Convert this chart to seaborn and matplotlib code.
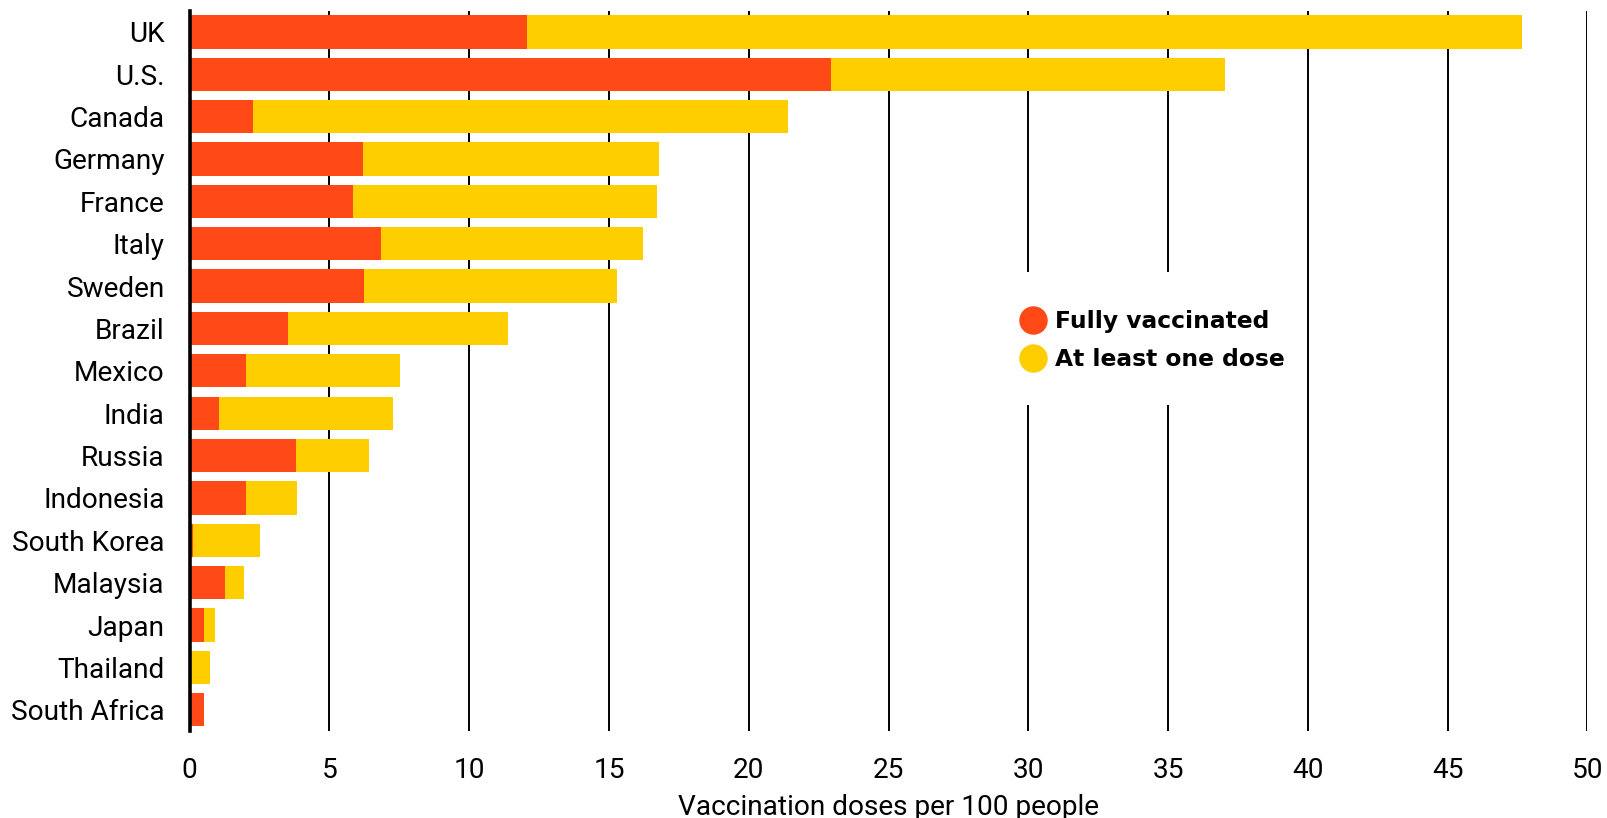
import matplotlib
matplotlib.use("Agg")
import matplotlib.pyplot as plt
from matplotlib.lines import Line2D
from matplotlib.patches import Rectangle
import seaborn as sns
import pandas as pd

# Vaccination doses per 100 people, by country
countries = ["UK", "U.S.", "Canada", "Germany", "France", "Italy", "Sweden",
             "Brazil", "Mexico", "India", "Russia", "Indonesia", "South Korea",
             "Malaysia", "Japan", "Thailand", "South Africa"]
fully_vaccinated = [12.05, 22.95, 2.25, 6.2, 5.85, 6.85, 6.25,
                    3.52, 2.0, 1.05, 3.82, 2.02, 0.12,
                    1.28, 0.5, 0.06, 0.5]
at_least_one_dose = [47.65, 37.05, 21.4, 16.8, 16.7, 16.2, 15.3,
                     11.38, 7.52, 7.26, 6.4, 3.83, 2.52,
                     1.95, 0.9, 0.72, 0.5]
x_ticks = [0, 5, 10, 15, 20, 25, 30, 35, 40, 45, 50]

RED = "#FF4A17"
YELLOW = "#FFCE00"

df = pd.DataFrame({"country": countries,
                   "fully": fully_vaccinated,
                   "one_dose": at_least_one_dose})

sns.set_theme(style="white")
plt.rcParams["font.family"] = ["Roboto", "DejaVu Sans"]

fig = plt.figure(figsize=(16.08, 8.18), dpi=100)
W, H = 1608, 818
ax = fig.add_axes([189.7 / W, 1 - 731 / H, (1587.5 - 189.7) / W, (731 - 10.7) / H])

sns.barplot(data=df, x="one_dose", y="country", orient="h", color=YELLOW,
            width=0.785, linewidth=0, saturation=1, ax=ax, zorder=2)
sns.barplot(data=df, x="fully", y="country", orient="h", color=RED,
            width=0.785, linewidth=0, saturation=1, ax=ax, zorder=3)

ax.set_xlim(0, 50)
ax.set_ylim(len(countries) - 0.5, -0.5)
ax.set_xticks(x_ticks)
ax.set_xticklabels([str(t) for t in x_ticks])

ax.set_axisbelow(True)
ax.grid(axis="x", color="black", linewidth=1.4)
ax.grid(axis="y", visible=False)
for side in ["top", "right", "bottom"]:
    ax.spines[side].set_visible(False)
ax.spines["left"].set_color("black")
ax.spines["left"].set_linewidth(2.6)
ax.spines["left"].set_zorder(5)

ax.tick_params(axis="both", length=0, labelsize=20.2, colors="black")
ax.tick_params(axis="x", pad=19)
ax.tick_params(axis="y", pad=18)
ax.set_ylabel("")
ax.set_xlabel("Vaccination doses per 100 people", fontsize=20.2, color="black",
              labelpad=7)

# white panel behind the legend, interrupting the gridlines
ax.add_patch(Rectangle((1000 / W, 1 - 405 / H), 295 / W, 133 / H,
                       transform=fig.transFigure, facecolor="white",
                       edgecolor="none", zorder=1.5))

handles = [
    Line2D([], [], marker="o", linestyle="", markersize=19.5,
           markerfacecolor=RED, markeredgecolor=RED, label="Fully vaccinated"),
    Line2D([], [], marker="o", linestyle="", markersize=19.5,
           markerfacecolor=YELLOW, markeredgecolor=YELLOW, label="At least one dose"),
]
leg = ax.legend(handles=handles, loc="center left",
                bbox_to_anchor=(1021.5 / W, 1 - 340.5 / H), bbox_transform=fig.transFigure,
                frameon=False, borderpad=0, borderaxespad=0,
                handlelength=1.0, handletextpad=0.42, labelspacing=0.64,
                prop={"family": "DejaVu Sans", "weight": "bold", "size": 16.8})
for t in leg.get_texts():
    t.set_color("black")
leg.set_zorder(10)

fig.savefig("out.png", dpi=100, facecolor="white")
